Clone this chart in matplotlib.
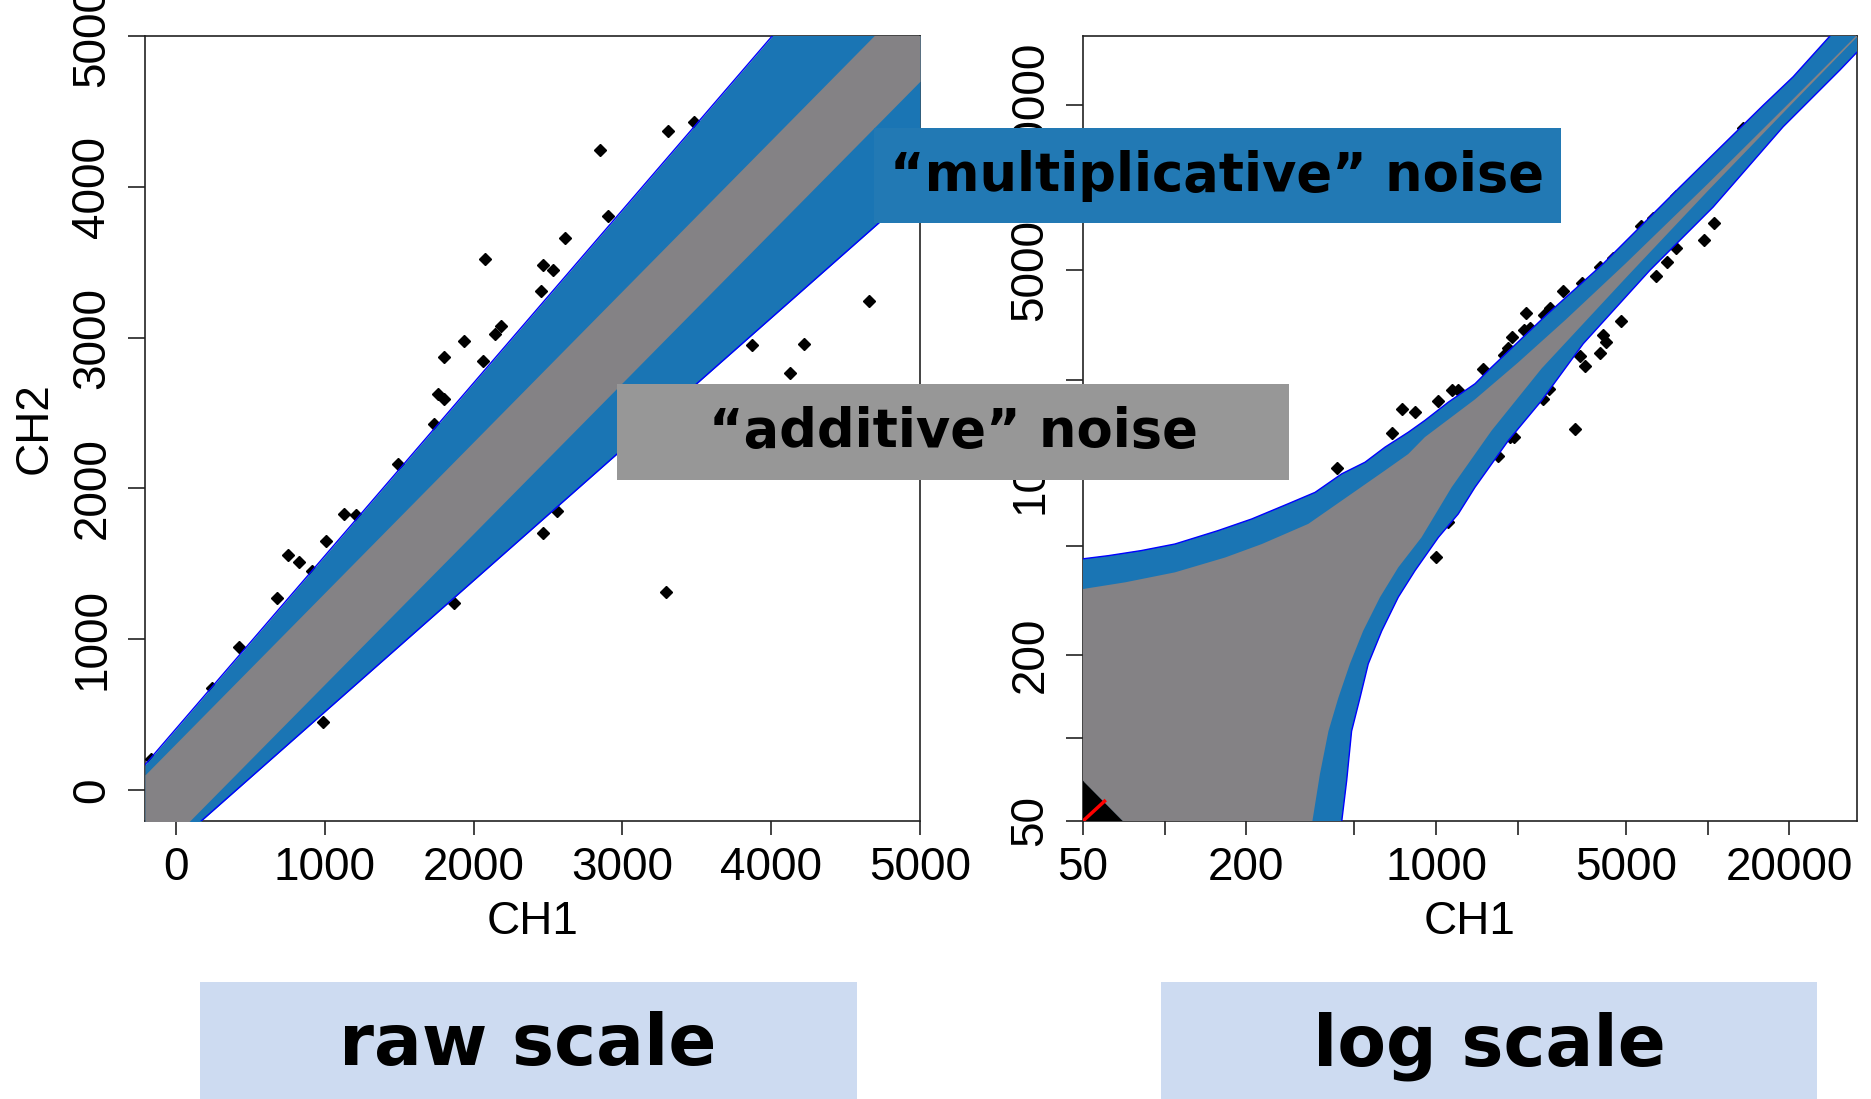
import matplotlib.pyplot as plt
from matplotlib.patches import Rectangle

W, H = 1871, 1099

BAND_BLUE = '#1a75b4'
BAND_GRAY = '#848285'
BOX_BLUE = '#2279b4'
BOX_GRAY = '#979797'
LABEL_BOX = '#cddbf1'

# ---- raw scale panel: band edges read at both ends of the CH1 range
raw_x = [-210, 5000]
raw_blue_upper = [167, 6139]
raw_gray_upper = [100, 5311]
raw_gray_lower = [-506, 4700]
raw_blue_lower = [-535, 4001]

raw_ch1 = [3303, 3480, 2850, 2900, 2611, 2076, 2467, 2533, 2451, 1936, 2142, 2183,
           1800, 2059, 1763, 1800, 1730, 1491, 1129, 1211, 2562, 2463, 3872, 4217,
           4127, 4654, 1009, 750, 828, 680, 424, 989, 1866, 3291, 243, -173, 915]
raw_ch2 = [4370, 4429, 4242, 3806, 3659, 3522, 3484, 3446, 3311, 2979, 3026, 3074,
           2873, 2844, 2624, 2593, 2427, 2161, 1829, 1825, 1853, 1704, 2948, 2960,
           2766, 3240, 1648, 1555, 1513, 1276, 951, 453, 1243, 1312, 675, 206, 1449]

raw_ticks = [0, 1000, 2000, 3000, 4000, 5000]

# ---- log scale panel: band edges
log_blue_up_x = [50, 62, 82, 109, 157, 209, 285, 358, 449, 547, 648, 789, 909, 1108,
                 1390, 1600, 2552, 4121, 7907, 16030, 20650, 28440, 35500]
log_blue_up_y = [448, 460, 480, 507, 567, 625, 710, 781, 912, 1005, 1140, 1291, 1426,
                 1660, 1937, 2225, 3450, 5284, 10040, 19900, 25240, 35800, 44000]
log_gray_up_x = [50, 71.5, 109, 167, 228, 338, 449, 648, 789, 909, 1390, 2000, 3000,
                 5000, 10000, 20000, 35500]
log_gray_up_y = [348, 368, 400, 453, 507, 600, 729, 938, 1076, 1240, 1700, 2310, 3310,
                 5310, 10300, 20300, 35800]
log_gray_lo_x = [350, 373, 401, 436, 481, 538, 621, 725, 883, 1140, 1600, 2445, 5000,
                 10000, 20000, 35500]
log_gray_lo_y = [50, 74, 106, 140, 186, 245, 325, 417, 536, 815, 1309, 2200, 4700,
                 9700, 19700, 35200]
log_blue_lo_x = [449, 468, 488, 524, 562, 630, 725, 836, 1019, 1206, 1390, 1845, 2445,
                 3480, 6124, 10480, 18970, 30700, 35500]
log_blue_lo_y = [50, 70, 106, 140, 186, 245, 325, 406, 536, 652, 815, 1205, 1682,
                 2706, 5000, 8490, 16610, 26690, 31000]

corner_x = [50, 70, 50]
corner_y = [50, 50, 70]
diag_x = [50, 60]
diag_y = [50, 59]

log_ch1 = [433, 686, 747, 836, 1012, 1140, 1206, 1489, 1774, 1845, 1905, 2138, 2108,
           2213, 2506, 2636, 2938, 3459, 4018, 4500, 5686, 6281, 7645, 8238, 10550,
           12850, 13510, 16880, 19130, 21640, 29860,
           1000, 1077, 1107, 1686, 1878, 1936, 2476, 2608, 3245, 3381, 3530, 4018,
           4218, 4119, 4779, 6434, 7093, 7645, 9661, 10550]
log_ch2 = [955, 1284, 1563, 1528, 1671, 1832, 1838, 2192, 2467, 2618, 2864, 3508, 3040,
           3090, 3428, 3640, 4225, 4487, 5128, 5559, 7218, 7780, 9297, 9716, 12160,
           15210, 16380, 19580, 21730, 24810, 33490,
           453, 617, 608, 1057, 1240, 1237, 1700, 1861, 1323, 2448, 2254, 2506,
           2740, 2911, 3283, 4758, 5358, 6036, 6446, 7430]

log_ticks = [50, 100, 200, 500, 1000, 2000, 5000, 10000, 20000]
log_labels = ['50', '', '200', '', '1000', '', '5000', '', '20000']

plt.rcParams['font.family'] = ['Liberation Sans', 'DejaVu Sans']


def fx(px):
    return px / W


def fy(py):
    return 1 - py / H


def style_axes(ax):
    for sp in ax.spines.values():
        sp.set_color('#222222')
        sp.set_linewidth(1.2)
    ax.tick_params(axis='both', labelsize=33, width=1.2, color='#222222')
    ax.tick_params(axis='x', length=10, pad=8)
    ax.tick_params(axis='y', length=12, pad=10, labelrotation=90)
    for lab in ax.get_yticklabels():
        lab.set_va('center')
    ax.set_xlabel('CH1', fontsize=33, va='center')
    ax.xaxis.set_label_coords(0.5, -0.1287)


fig = plt.figure(figsize=(W / 100, H / 100), dpi=100)

# raw scale
ax1 = fig.add_axes([fx(145), fy(821), fx(775), 785 / H])
ax1.plot(raw_ch1, raw_ch2, 'D', color='black', ms=6, zorder=2.6)
ax1.fill_between(raw_x, raw_blue_lower, raw_blue_upper, color=BAND_BLUE, lw=0, zorder=3)
ax1.fill_between(raw_x, raw_gray_lower, raw_gray_upper, color=BAND_GRAY, lw=0, zorder=3.1)
ax1.plot(raw_x, raw_blue_upper, color='blue', lw=1, zorder=3.2)
ax1.plot(raw_x, raw_blue_lower, color='blue', lw=1, zorder=3.2)
ax1.set_xlim(-210, 5000)
ax1.set_ylim(-206, 5000)
ax1.set_xticks(raw_ticks)
ax1.set_yticks(raw_ticks)
style_axes(ax1)
ax1.set_ylabel('CH2', fontsize=33, va='center')
ax1.yaxis.set_label_coords(-0.142, 0.5)

# log scale
ax2 = fig.add_axes([fx(1083), fy(821), fx(774), 785 / H])
ax2.set_xscale('log')
ax2.set_yscale('log')
ax2.plot(log_ch1, log_ch2, 'D', color='black', ms=6, zorder=2.6)
blue_x = log_blue_up_x + log_blue_lo_x[::-1] + corner_x[1:]
blue_y = log_blue_up_y + log_blue_lo_y[::-1] + corner_y[1:]
ax2.fill(blue_x, blue_y, color=BAND_BLUE, lw=0, zorder=3)
gray_x = log_gray_up_x + log_gray_lo_x[::-1] + corner_x[1:]
gray_y = log_gray_up_y + log_gray_lo_y[::-1] + corner_y[1:]
ax2.fill(gray_x, gray_y, color=BAND_GRAY, lw=0, zorder=3.1)
ax2.plot(log_blue_up_x, log_blue_up_y, color='blue', lw=1, zorder=3.2)
ax2.plot(log_blue_lo_x, log_blue_lo_y, color='blue', lw=1, zorder=3.2)
ax2.fill(corner_x, corner_y, color='black', lw=0, zorder=3.3)
ax2.plot(diag_x, diag_y, color='red', lw=2.5, zorder=3.4)
ax2.set_xlim(50, 35500)
ax2.set_ylim(50, 35500)
ax2.set_xticks(log_ticks, log_labels)
ax2.set_yticks(log_ticks, log_labels)
ax2.minorticks_off()
style_axes(ax2)

# annotation boxes
fig.add_artist(Rectangle((fx(874), fy(223)), fx(1561 - 874), 95 / H,
                         transform=fig.transFigure, color=BOX_BLUE, lw=0, zorder=5))
fig.text(fx(1217), fy(176), '\u201cmultiplicative\u201d noise', fontsize=38,
         family='DejaVu Sans', weight='bold', ha='center', va='center', zorder=6)
fig.add_artist(Rectangle((fx(617), fy(480)), fx(1289 - 617), 96 / H,
                         transform=fig.transFigure, color=BOX_GRAY, lw=0, zorder=5))
fig.text(fx(953), fy(432), '\u201cadditive\u201d noise', fontsize=38,
         family='DejaVu Sans', weight='bold', ha='center', va='center', zorder=6)

fig.add_artist(Rectangle((fx(200), 0), fx(857 - 200), (1099 - 982) / H,
                         transform=fig.transFigure, color=LABEL_BOX, lw=0, zorder=5))
fig.text(fx(528), fy(1046), 'raw scale', fontsize=51,
         family='DejaVu Sans', weight='bold', ha='center', va='center', zorder=6)
fig.add_artist(Rectangle((fx(1161), 0), fx(1817 - 1161), (1099 - 982) / H,
                         transform=fig.transFigure, color=LABEL_BOX, lw=0, zorder=5))
fig.text(fx(1489), fy(1046), 'log scale', fontsize=51,
         family='DejaVu Sans', weight='bold', ha='center', va='center', zorder=6)

fig.savefig('out.png', dpi=100)
